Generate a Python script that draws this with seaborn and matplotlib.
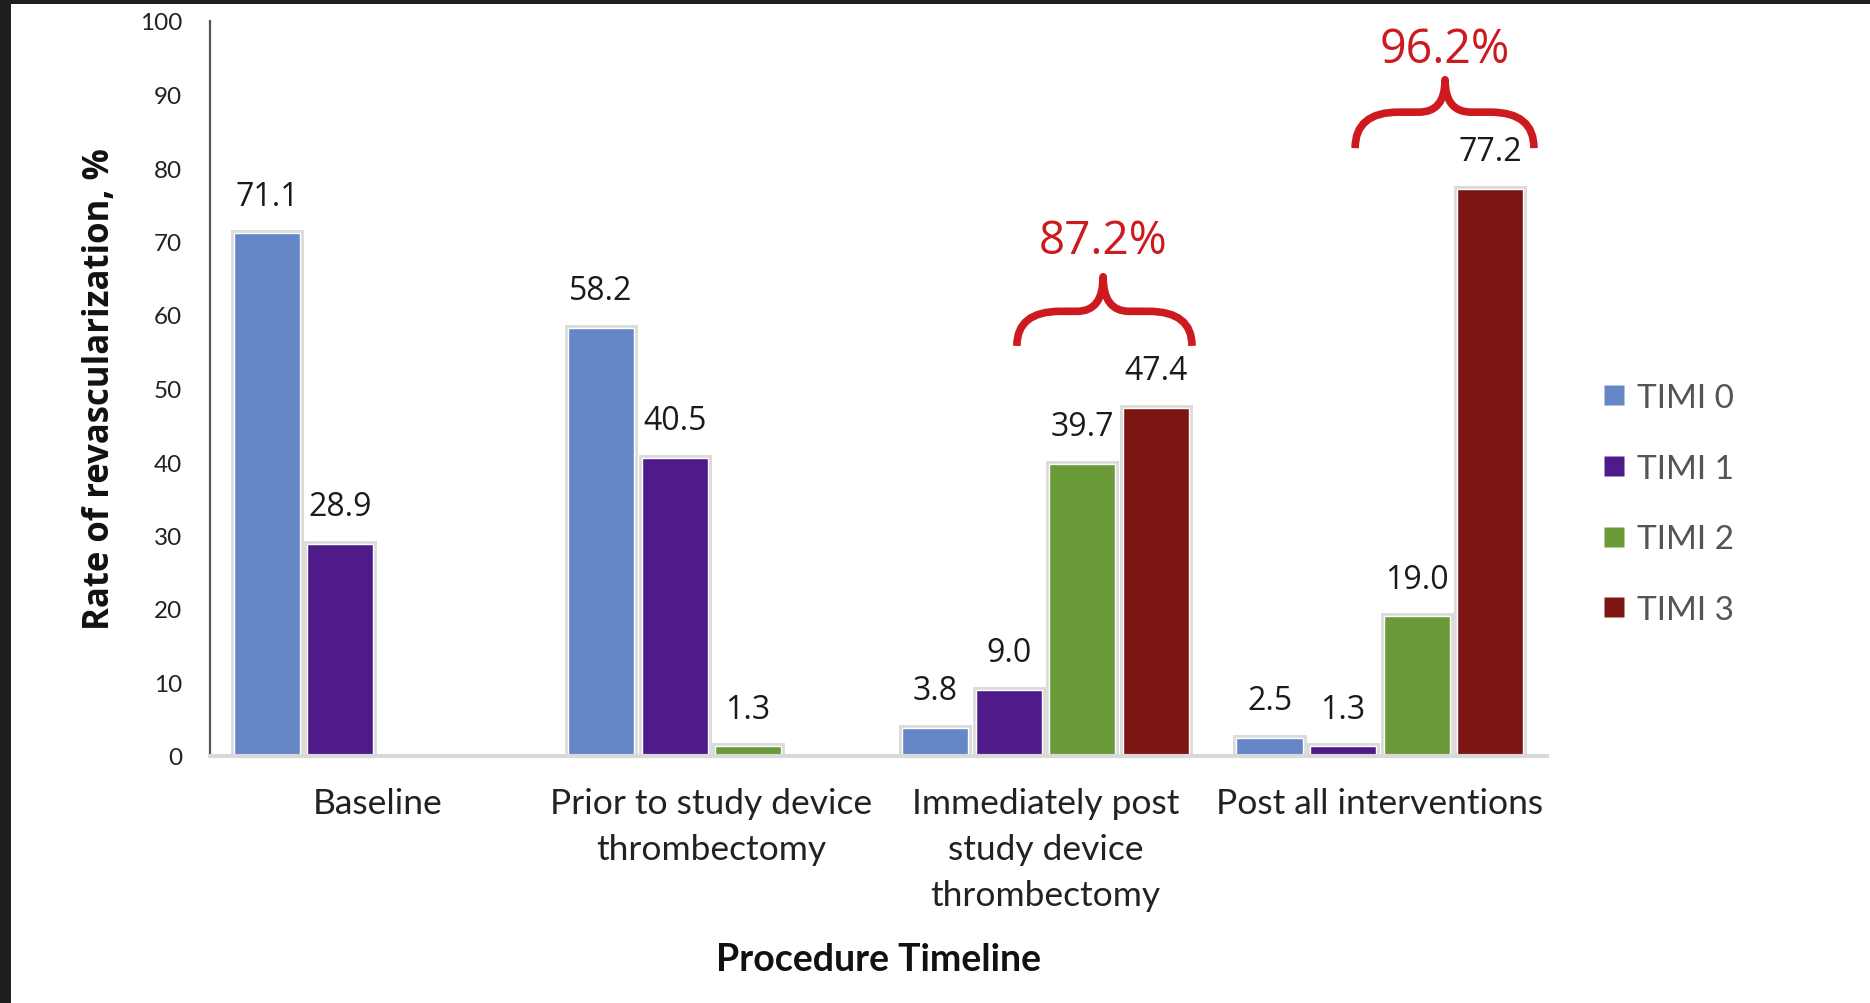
import matplotlib
matplotlib.use("Agg")
import matplotlib.pyplot as plt
import seaborn as sns
import pandas as pd
from matplotlib.path import Path
from matplotlib.patches import PathPatch, Rectangle
from matplotlib.lines import Line2D
import matplotlib.patheffects as pe

# ---- data ----
categories = ["Baseline", "Prior to study device\nthrombectomy",
              "Immediately post\nstudy device\nthrombectomy", "Post all interventions"]
series = ["TIMI 0", "TIMI 1", "TIMI 2", "TIMI 3"]
timi0 = [71.1, 58.2, 3.8, 2.5]
timi1 = [28.9, 40.5, 9.0, 1.3]
timi2 = [0.0, 1.3, 39.7, 19.0]
timi3 = [0.0, 0.0, 47.4, 77.2]
colors = ["#6586C7", "#4F1B8A", "#6B9B39", "#7B1612"]
yticks = [0, 10, 20, 30, 40, 50, 60, 70, 80, 90, 100]
brace_texts = ["87.2%", "96.2%"]

rows = []
for s, vals in zip(series, [timi0, timi1, timi2, timi3]):
    for c, v in zip(categories, vals):
        rows.append({"cat": c, "TIMI": s, "value": v})
df = pd.DataFrame(rows)

sns.set_theme(style="white")
plt.rcParams['font.family'] = ['Lato', 'DejaVu Sans']

W, H = 1870, 1004
fig = plt.figure(figsize=(W / 100, H / 100), dpi=100)
fig.patch.set_facecolor("white")
# dark screenshot frame on top & left
fig.patches.append(Rectangle((0, 1 - 5 / H), 1, 5 / H, transform=fig.transFigure,
                             facecolor="#1E1F1E", edgecolor="none", zorder=10))
fig.patches.append(Rectangle((0, 0), 11 / W, 1, transform=fig.transFigure,
                             facecolor="#1E1F1E", edgecolor="none", zorder=10))

ax = fig.add_axes([210 / W, 1 - 757 / H, (1547 - 210) / W, (757 - 22) / H])
sns.barplot(data=df, x="cat", y="value", hue="TIMI", order=categories,
            hue_order=series, palette=colors, width=0.88, gap=0.1,
            saturation=1, legend=False, ax=ax, errorbar=None)

for cont in ax.containers:
    for bar in cont:
        if bar.get_height() > 0:
            bar.set_path_effects([pe.Stroke(linewidth=5, foreground="#8a8a8a", alpha=0.3),
                                  pe.Normal()])
    labels = [f"{b.get_height():.1f}" if b.get_height() > 0 else "" for b in cont]
    ax.bar_label(cont, labels=labels, padding=15, fontsize=23,
                 family=['Open Sans', 'DejaVu Sans'], color="#1a1a1a")

ax.set_ylim(0, 100)
ax.set_xlim(-0.5, 3.5)
ax.set_yticks(yticks)
ax.set_yticklabels([str(t) for t in yticks], fontsize=17.5, color="#222222")
ax.tick_params(axis="y", length=0, pad=20)
ax.tick_params(axis="x", length=0, pad=22, labelsize=25.5, labelcolor="#222222")
for lab in ax.get_xticklabels():
    lab.set_linespacing(1.55)

for s in ["top", "right"]:
    ax.spines[s].set_visible(False)
ax.spines["left"].set_color("#555555")
ax.spines["left"].set_linewidth(1.6)
ax.spines["bottom"].set_color("#D9D9D9")
ax.spines["bottom"].set_linewidth(3)

ax.set_ylabel("Rate of revascularization, %", fontsize=25, fontweight="bold",
              color="#111111", family=['Open Sans', 'DejaVu Sans'])
ax.set_xlabel("Procedure Timeline", fontsize=27, fontweight="bold", color="#111111")
ax.xaxis.set_label_coords(0.5, -(943 - 757) / (757 - 22))
ax.yaxis.set_label_coords(-(210 - 118) / (1547 - 210), 0.5)


# ---- curly braces (annotations) ----
def brace(x0, xc, x1, y0, ym, yt, r):
    verts = [(x0, y0), (x0, ym), (x0 + r, ym),
             (xc - r * 0.6, ym),
             (xc, ym), (xc, yt),
             (xc, ym), (xc + r * 0.6, ym),
             (x1 - r, ym),
             (x1, ym), (x1, y0)]
    codes = [Path.MOVETO, Path.CURVE3, Path.CURVE3,
             Path.LINETO,
             Path.CURVE3, Path.CURVE3,
             Path.CURVE3, Path.CURVE3,
             Path.LINETO,
             Path.CURVE3, Path.CURVE3]
    ax.add_patch(PathPatch(Path(verts, codes), facecolor="none", edgecolor="#CC1A1F",
                           lw=5.5, capstyle="butt", joinstyle="round", clip_on=False))

red = "#CC1A1F"
brace(1.914, 2.172, 2.438, 55.8, 60.5, 65.2, 0.13)
ax.text(2.172, 70.0, brace_texts[0], ha="center", va="center", fontsize=33,
        color=red, family=['Open Sans', 'DejaVu Sans'])
brace(2.926, 3.195, 3.461, 82.7, 87.6, 92.0, 0.13)
ax.text(3.195, 96.2, brace_texts[1], ha="center", va="center", fontsize=33.5,
        color=red, family=['Open Sans', 'DejaVu Sans'], clip_on=False)

# ---- legend ----
handles = [Line2D([0], [0], marker="s", linestyle="none", markersize=15,
                  markerfacecolor=c, markeredgecolor="none") for c in colors]
leg = fig.legend(handles, series, loc="center left", bbox_to_anchor=(1597 / W, 1 - 505 / H),
                 frameon=False, fontsize=24, labelspacing=1.22, handletextpad=0.2,
                 handlelength=1.0, borderpad=0, borderaxespad=0)
for t in leg.get_texts():
    t.set_color("#555555")

fig.savefig("out.png", dpi=100, facecolor="white")
